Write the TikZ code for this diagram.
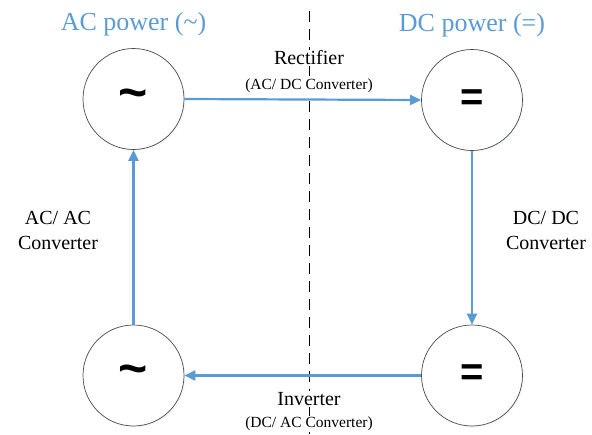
\documentclass[tikz,border=0pt]{standalone}
\usepackage{fontspec}
\setmainfont{Liberation Serif}
\newfontfamily\symfont{Liberation Sans}
\usepackage{xcolor}
\usepackage{tikz}
\usetikzlibrary{arrows.meta,positioning,shadows}
\definecolor{bluex}{HTML}{5B9BD5}
\definecolor{rimx}{HTML}{4A4A4A}
\tikzset{
  ar/.style={-{Triangle[length=11pt,width=10pt]},line width=2.2pt,bluex},
  src/.style={circle,draw=rimx,line width=0.7pt,fill=white,minimum size=101pt,inner sep=0pt,
    font=\symfont\bfseries\fontsize{40}{40}\selectfont,
    circular drop shadow={fill=bluex!35,shadow xshift=1.2pt,shadow yshift=-1.2pt,shadow scale=1.01}},
  head/.style={text=bluex,font=\fontsize{26}{28}\selectfont,inner sep=0pt},
  lab/.style={font=\fontsize{20}{25}\selectfont,align=center,fill=white,inner sep=1pt},
  sub/.style={font=\fontsize{15.5}{18}\selectfont,fill=white,inner sep=1pt}
}
\begin{document}
\begin{tikzpicture}[x=1pt,y=-1pt]
\useasboundingbox (0,0) rectangle (592,434);
% divider between AC and DC side
\draw[line width=0.8pt,dash pattern=on 11pt off 7pt] (309,11)--(309,434);
% four sources
\node[src] (acT) at (133.5,99) {\fontsize{50}{50}\selectfont\raisebox{-4pt}{\char`\~}};
\node[src] (dcT) at (472,100) {=};
\node[src] (acB) at (133.5,375.5) {\fontsize{50}{50}\selectfont\raisebox{-4pt}{\char`\~}};
\node[src] (dcB) at (472,375.5) {=};
\node[head,above=12pt of acT] (acH) {AC power (\char`\~)};
\node[head,above=12pt of dcT] (dcH) {DC power (=)};
% conversions
\draw[ar] (acT.east)--(dcT.west);
\draw[ar] (dcT.south)--(dcB.north);
\draw[ar] (dcB.west)--(acB.east);
\draw[ar] (acB.north)--(acT.south);
\node[lab] (rect) at (309,58) {Rectifier};
\node[sub] (rectS) at (309,86) {(AC/ DC Converter)};
\node[lab] (inv) at (309,399) {Inverter};
\node[sub] (invS) at (309,424) {(DC/ AC Converter)};
\node[lab,fill=none] (acac) at (58,230) {AC/ AC\\Converter};
\node[lab,fill=none] (dcdc) at (546,230) {DC/ DC\\Converter};
\end{tikzpicture}
\end{document}
